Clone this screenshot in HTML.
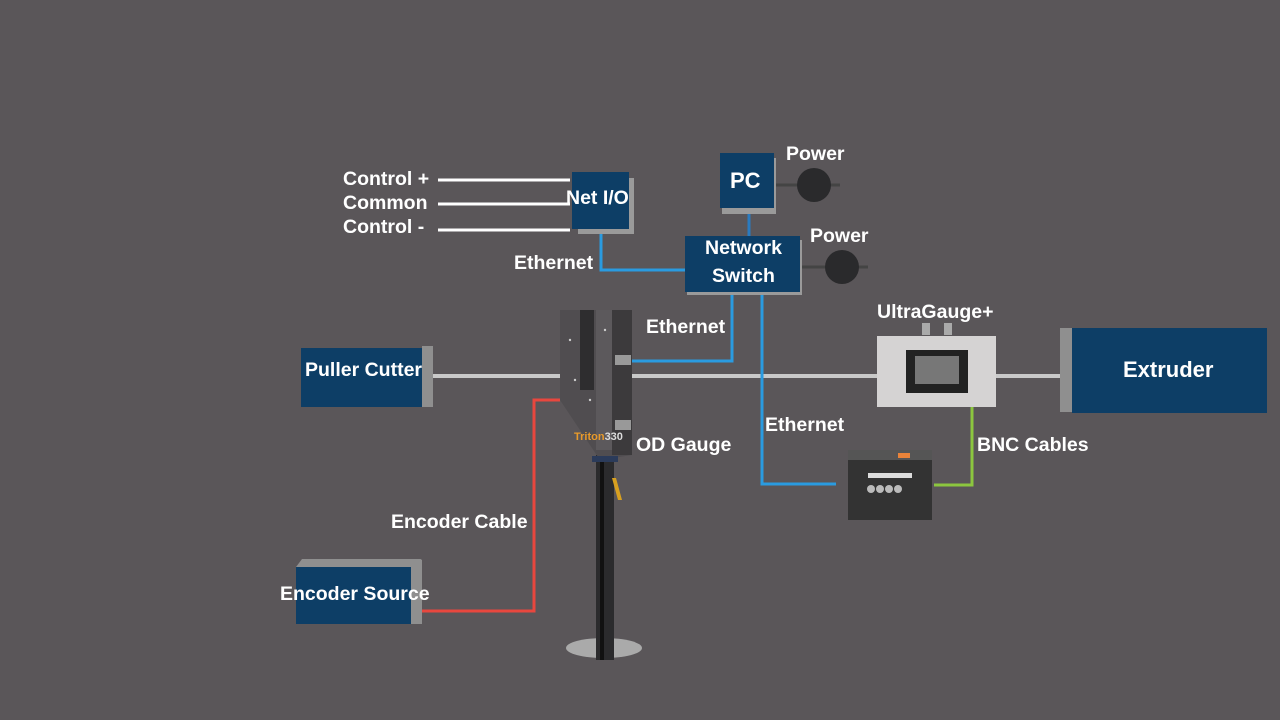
<!DOCTYPE html>
<html><head><style>
body{margin:0;width:1280px;height:720px;background:#5a5659;overflow:hidden;position:relative;font-family:"Liberation Sans",Arial,sans-serif;}
.t{position:absolute;color:#fff;font-weight:bold;font-size:19.5px;white-space:nowrap;line-height:1;}
</style></head><body>
<svg width="1280" height="720" style="position:absolute;left:0;top:0">
<g stroke="#fff" stroke-width="3">
<line x1="438" y1="180" x2="570" y2="180"/><line x1="438" y1="204" x2="570" y2="204"/><line x1="438" y1="230" x2="570" y2="230"/>
</g>
<line x1="426" y1="376" x2="1070" y2="376" stroke="#c9c9c9" stroke-width="4"/>
<g stroke="#2a9be0" stroke-width="3" fill="none">
<polyline points="601,230 601,270 686,270"/>
<polyline points="732,292 732,361 632,361"/>
<polyline points="762,292 762,484 836,484"/>
<line x1="749" y1="208" x2="749" y2="236" stroke="#2a7bc0"/>
</g>
<polyline points="972,407 972,485 934,485" stroke="#8cc63f" stroke-width="3" fill="none"/>
<polyline points="560,400 534,400 534,611 414,611" stroke="#e8473e" stroke-width="3" fill="none"/>
<line x1="774" y1="185" x2="840" y2="185" stroke="#444" stroke-width="3"/>
<line x1="800" y1="267" x2="868" y2="267" stroke="#444" stroke-width="3"/>
<circle cx="814" cy="185" r="17" fill="#2a2a2c"/>
<circle cx="842" cy="267" r="17" fill="#2a2a2c"/>
<rect x="578" y="178" width="56" height="56" fill="#9a9a9a"/>
<rect x="572" y="172" width="57" height="57" fill="#0d3e66"/>
<rect x="722" y="158" width="54" height="56" fill="#9a9a9a"/>
<rect x="720" y="153" width="54" height="55" fill="#0d3e66"/>
<rect x="687" y="240" width="115" height="55" fill="#9a9a9a"/>
<rect x="685" y="236" width="115" height="56" fill="#0d3e66"/>
<rect x="422" y="346" width="11" height="61" fill="#8f8f8f"/>
<rect x="301" y="348" width="121" height="59" fill="#0d3e66"/>
<rect x="1060" y="328" width="14" height="84" fill="#8f8f8f"/>
<rect x="1072" y="328" width="195" height="85" fill="#0d3e66"/>
<polygon points="296,567 302,559 422,559 411,567" fill="#8f8f8f"/>
<rect x="411" y="560" width="11" height="64" fill="#8f8f8f"/>
<rect x="296" y="567" width="115" height="57" fill="#0d3e66"/>
<ellipse cx="604" cy="648" rx="38" ry="10" fill="#aaa"/>
<rect x="596" y="455" width="18" height="205" fill="#2b2b2d"/>
<rect x="600" y="455" width="4" height="205" fill="#111"/>
<polygon points="560,310 632,310 632,455 600,460 560,400" fill="#504d50"/>
<rect x="612" y="310" width="20" height="145" fill="#3c3a3c"/>
<rect x="580" y="310" width="14" height="80" fill="#2e2d2f"/>
<rect x="596" y="310" width="16" height="140" fill="#5c595c"/>
<rect x="615" y="355" width="16" height="10" fill="#999"/>
<rect x="615" y="420" width="16" height="10" fill="#999"/>
<g fill="#ccc"><circle cx="570" cy="340" r="1.2"/><circle cx="590" cy="400" r="1.2"/><circle cx="605" cy="330" r="1.2"/><circle cx="575" cy="380" r="1.2"/></g>
<text x="574" y="440" fill="#e89a2a" font-family="Liberation Sans" font-size="11" font-weight="bold">Triton<tspan fill="#ddd">330</tspan></text>
<rect x="592" y="456" width="26" height="6" fill="#2b3b5a"/>
<polygon points="612,478 616,478 622,500 618,500" fill="#d8a020"/>
<rect x="922" y="323" width="8" height="12" fill="#aaa"/><rect x="944" y="323" width="8" height="12" fill="#aaa"/>
<rect x="877" y="336" width="119" height="71" fill="#d5d3d3"/>
<rect x="906" y="350" width="62" height="43" fill="#222"/>
<rect x="915" y="356" width="44" height="28" fill="#777"/>
<rect x="848" y="450" width="84" height="70" fill="#333"/>
<rect x="848" y="450" width="84" height="10" fill="#555"/>
<rect x="868" y="473" width="44" height="5" fill="#ddd"/>
<g fill="#bbb"><circle cx="871" cy="489" r="4"/><circle cx="880" cy="489" r="4"/><circle cx="889" cy="489" r="4"/><circle cx="898" cy="489" r="4"/></g>
<rect x="898" y="453" width="12" height="5" fill="#e8833a"/>
</svg>
<div class="t" style="left:343px;top:170px">Control +</div>
<div class="t" style="left:343px;top:194px">Common</div>
<div class="t" style="left:343px;top:218px">Control -</div>
<div class="t" style="left:566px;top:189px">Net I/O</div>
<div class="t" style="left:730px;top:170px;font-size:22px">PC</div>
<div class="t" style="left:786px;top:145px">Power</div>
<div class="t" style="left:810px;top:227px">Power</div>
<div class="t" style="left:705px;top:234px;line-height:28px;text-align:center">Network<br>Switch</div>
<div class="t" style="left:514px;top:254px">Ethernet</div>
<div class="t" style="left:646px;top:318px">Ethernet</div>
<div class="t" style="left:765px;top:416px">Ethernet</div>
<div class="t" style="left:877px;top:303px">UltraGauge+</div>
<div class="t" style="left:1123px;top:359px;font-size:22px">Extruder</div>
<div class="t" style="left:305px;top:361px">Puller Cutter</div>
<div class="t" style="left:636px;top:436px">OD Gauge</div>
<div class="t" style="left:977px;top:436px">BNC Cables</div>
<div class="t" style="left:391px;top:513px">Encoder Cable</div>
<div class="t" style="left:280px;top:585px">Encoder Source</div>
</body></html>
